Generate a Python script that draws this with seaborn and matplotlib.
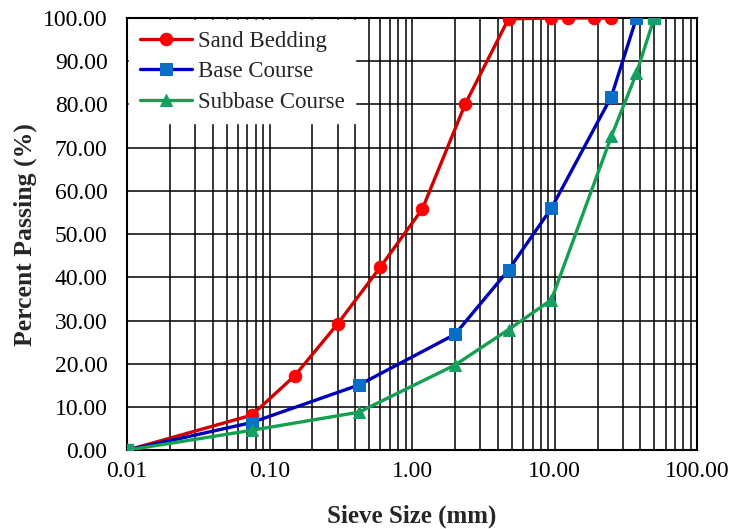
import numpy as np
import pandas as pd
import matplotlib
matplotlib.use("Agg")
import matplotlib.pyplot as plt
import seaborn as sns
from matplotlib.ticker import FixedLocator, LogLocator, NullFormatter, FuncFormatter

# Sieve analysis data (sieve size in mm, percent passing)
sand_size = [0.01, 0.075, 0.15, 0.3, 0.6, 1.18, 2.36, 4.75, 9.5, 12.5, 19.0, 25.0]
sand_pass = [0.0, 8.1, 17.2, 29.2, 42.4, 55.8, 80.1, 99.8, 100.0, 100.0, 100.0, 100.0]

base_size = [0.01, 0.075, 0.425, 2.0, 4.75, 9.5, 25.0, 37.5]
base_pass = [0.0, 6.4, 15.1, 26.8, 41.7, 56.0, 81.8, 100.0]

subbase_size = [0.01, 0.075, 0.425, 2.0, 4.75, 9.5, 25.0, 37.5, 50.0]
subbase_pass = [0.0, 4.6, 8.8, 19.7, 27.9, 34.8, 72.6, 87.2, 100.0]

x_ticks = [0.01, 0.1, 1, 10, 100]
y_ticks = list(range(0, 101, 10))

sns.set_style("white")
plt.rcParams['font.family'] = ['Liberation Serif', 'DejaVu Serif']

fig = plt.figure(figsize=(7.3, 5.29), dpi=100)
ax = fig.add_axes([0.174, 0.149, 0.781, 0.817])

sand = pd.DataFrame({"size": sand_size, "passing": sand_pass})
base = pd.DataFrame({"size": base_size, "passing": base_pass})
subbase = pd.DataFrame({"size": subbase_size, "passing": subbase_pass})

sns.lineplot(data=sand, x="size", y="passing", ax=ax, color="#d00000",
             marker="o", markersize=9, markerfacecolor="#ff0000",
             markeredgecolor="#ff0000", linewidth=2.4, label="Sand Bedding",
             zorder=5)
sns.lineplot(data=base, x="size", y="passing", ax=ax, color="#0000b4",
             marker="s", markersize=8.5, markerfacecolor="#0a6ec8",
             markeredgecolor="#0a6ec8", linewidth=2.4, label="Base Course",
             zorder=6)
sns.lineplot(data=subbase, x="size", y="passing", ax=ax, color="#14a050",
             marker="^", markersize=9, markerfacecolor="#14a060",
             markeredgecolor="#14a060", linewidth=2.4, label="Subbase Course",
             markevery=list(range(1, len(subbase_size) - 1)), zorder=7)
# end points of the subbase curve are drawn as squares
ax.plot([subbase_size[0], subbase_size[-1]], [subbase_pass[0], subbase_pass[-1]],
        linestyle="none", marker="s", markersize=8.5, color="#14a070", zorder=8)

ax.set_xscale("log")
ax.set_xlim(0.01, 100)
ax.set_ylim(0, 100)

ax.xaxis.set_major_locator(FixedLocator(x_ticks))
ax.xaxis.set_minor_locator(LogLocator(base=10, subs=np.arange(2, 10)))
ax.xaxis.set_minor_formatter(NullFormatter())
ax.xaxis.set_major_formatter(FuncFormatter(lambda v, p: f"{v:.2f}"))
ax.set_yticks(y_ticks)
ax.yaxis.set_major_formatter(FuncFormatter(lambda v, p: f"{v:.2f}"))

ax.grid(True, which="both", axis="x", color="black", linewidth=1.1)
ax.grid(True, which="major", axis="y", color="black", linewidth=1.1)
ax.set_axisbelow(True)

ax.tick_params(axis="both", which="both", direction="in", colors="black",
               labelsize=17)
ax.tick_params(axis="x", which="major", length=7, pad=8)
ax.tick_params(axis="x", which="minor", length=5)
ax.tick_params(axis="y", which="major", length=6, pad=14)

for s in ax.spines.values():
    s.set_color("black")
    s.set_linewidth(1.5)

ax.set_xlabel("Sieve Size (mm)", fontsize=18, fontweight="bold", labelpad=16)
ax.set_ylabel("Percent Passing (%)", fontsize=18.5, fontweight="bold", labelpad=4)

leg = ax.legend(loc="upper left", fontsize=16.5, frameon=True, fancybox=False,
                borderaxespad=0.1, handlelength=2.3, handletextpad=0.25,
                labelspacing=0.42, borderpad=0.45)
leg.get_frame().set_facecolor("white")
leg.get_frame().set_edgecolor("white")
leg.get_frame().set_alpha(1.0)
leg.set_zorder(10)

plt.savefig("out.png", dpi=100)
plt.close()
